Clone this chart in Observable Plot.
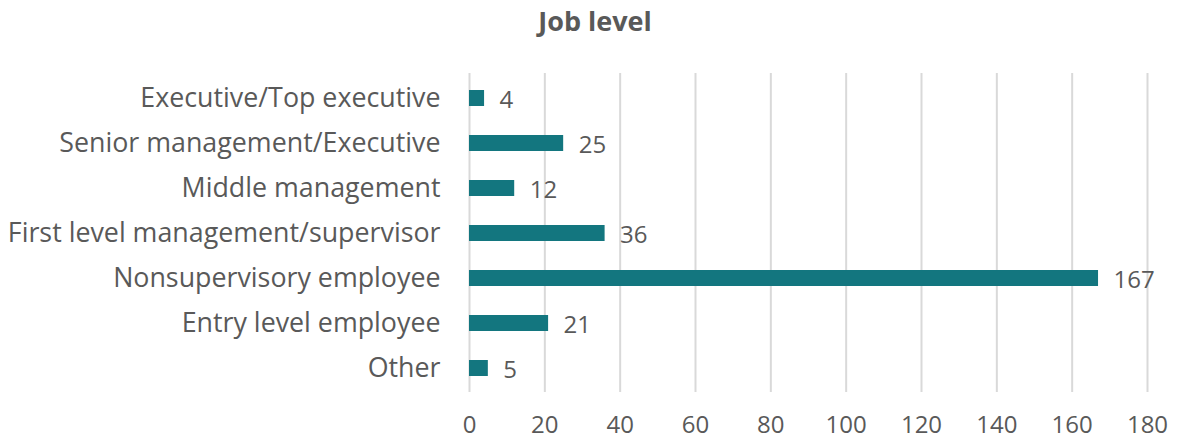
<!DOCTYPE html>
<html>
<head>
<meta charset="utf-8">
<script src="https://cdn.jsdelivr.net/npm/d3@7"></script>
<script src="https://cdn.jsdelivr.net/npm/@observablehq/plot@0.6"></script>
<style>
  body { margin: 0; background: #fff; font-family: "Open Sans", sans-serif; }
  #wrap { position: relative; width: 1177px; height: 439px; }
  #title { position: absolute; left: 0; top: 2px; width: 1190px; text-align: center;
           font: bold 27px "Open Sans", sans-serif; color: #595959; }
</style>
</head>
<body>
<div id="wrap">
  <div id="title">Job level</div>
  <div id="chart"></div>
</div>
<script>
const categories = [
  "Executive/Top executive",
  "Senior management/Executive",
  "Middle management",
  "First level management/supervisor",
  "Nonsupervisory employee",
  "Entry level employee",
  "Other"
];
const counts = [4, 25, 12, 36, 167, 21, 5];
const xTicks = [0, 20, 40, 60, 80, 100, 120, 140, 160, 180];

const data = categories.map((c, i) => ({category: c, count: counts[i]}));

const chart = Plot.plot({
  width: 1177,
  height: 439,
  marginLeft: 469,
  marginRight: 30,
  marginTop: 73,
  marginBottom: 47,
  style: {fontFamily: "Open Sans, sans-serif", fontSize: "24px", color: "#595959", background: "transparent"},
  x: {domain: [0, 180], ticks: xTicks, grid: false},
  y: {domain: categories, paddingInner: 0.65, paddingOuter: 0.325, label: null},
  marks: [
    Plot.ruleX(xTicks, {stroke: "#d9d9d9", strokeWidth: 2, strokeOpacity: 1}),
    Plot.axisX({ticks: xTicks, tickSize: 0, tickPadding: 23, label: null, fontSize: 24, fill: "#595959"}),
    Plot.axisY({tickSize: 0, tickPadding: 29, label: null, fontSize: 26.8, fill: "#595959"}),
    Plot.barX(data, {x: "count", y: "category", fill: "#13767f"}),
    Plot.text(data, {x: "count", y: "category", text: d => String(d.count), textAnchor: "start", dx: 15, dy: 2, fontSize: 24, fill: "#595959"})
  ]
});
document.getElementById("chart").appendChild(chart);
</script>
</body>
</html>
